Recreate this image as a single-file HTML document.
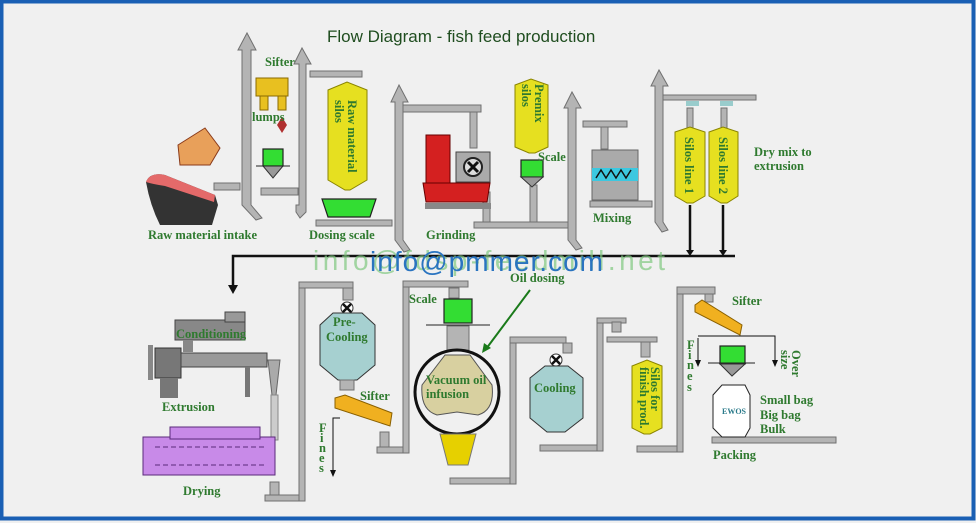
<!DOCTYPE html>
<html><head><meta charset="utf-8"><style>
html,body{margin:0;padding:0;background:#f0f0f0;}
svg{display:block}
.l{font-family:"Liberation Serif",serif;font-weight:bold;font-size:12.5px;fill:#2f7a2f}
.g{fill:#b4b4b4;stroke:#707070;stroke-width:1}
.y{fill:#e6e020;stroke:#8a8400;stroke-width:1}
.gr{fill:#33dd33;stroke:#222;stroke-width:1.2}
</style></head><body>
<svg width="976" height="523" viewBox="0 0 976 523" xmlns="http://www.w3.org/2000/svg">
<rect x="0" y="0" width="976" height="523" fill="#f0f0f0"/>
<rect x="1.5" y="1.5" width="972" height="517" fill="none" stroke="#1a5fb4" stroke-width="4"/>
<text x="327" y="42" font-family="Liberation Sans,sans-serif" font-size="17" fill="#1f4d1f">Flow Diagram - fish feed production</text>

<g class="g">
<polygon points="238,50 247,33 256,50 251,50 251,205 262,218 256,220 242,205 242,50"/>
<polygon points="294,64 302,48 311,64 306,64 306,212 300,218 296,212 296,205 299,205 299,64"/>
<polygon points="391,102 399,85 408,102 403,102 403,240 410,250 404,252 395,240 395,102"/>
<polygon points="564,108 572,92 581,108 576,108 576,240 582,248 576,250 568,240 568,108"/>
<polygon points="651,86 659,70 668,86 663,86 663,222 668,230 662,232 655,222 655,86"/>
</g>
<g class="g">
<rect x="214" y="183" width="26" height="7"/>
<rect x="261" y="188" width="37" height="7"/>
<rect x="310" y="71" width="52" height="6"/>
<rect x="316" y="220" width="76" height="6"/>
<rect x="403" y="105" width="78" height="7"/><rect x="470" y="112" width="7" height="36"/>
<rect x="474" y="222" width="94" height="6"/><rect x="483" y="192" width="7" height="30"/>
<rect x="583" y="121" width="44" height="6"/><rect x="601" y="127" width="7" height="22"/>
<rect x="590" y="201" width="62" height="6"/>
<rect x="663" y="95" width="93" height="5"/>
<rect x="530" y="185" width="7" height="37"/>
<rect x="265" y="495" width="37" height="6"/><rect x="299" y="283" width="6" height="218"/><rect x="299" y="282" width="54" height="6"/>
<rect x="377" y="447" width="29" height="6"/><rect x="403" y="282" width="6" height="171"/><rect x="403" y="281" width="65" height="6"/>
<rect x="450" y="478" width="66" height="6"/><rect x="510" y="338" width="6" height="146"/><rect x="510" y="337" width="56" height="6"/>
<rect x="540" y="445" width="62" height="6"/><rect x="597" y="318" width="6" height="133"/><rect x="597" y="318" width="29" height="5"/>
<rect x="607" y="337" width="50" height="5"/>
<rect x="637" y="446" width="44" height="6"/><rect x="677" y="288" width="6" height="164"/><rect x="677" y="287" width="38" height="7"/>
<rect x="712" y="437" width="124" height="6"/>
<rect x="270" y="482" width="9" height="13"/><rect x="380" y="432" width="9" height="15"/><rect x="343" y="288" width="10" height="12"/>
<rect x="449" y="288" width="10" height="10"/><rect x="563" y="343" width="9" height="10"/><rect x="612" y="322" width="9" height="10"/>
<rect x="641" y="342" width="9" height="15"/><rect x="705" y="294" width="8" height="8"/>
</g>

<g stroke="#111" stroke-width="2.5" fill="none">
<path d="M735,256 H233 V287"/>
<path d="M690,205 V252 M723,205 V252"/>
</g>
<polygon points="228,285 238,285 233,294" fill="#111"/>
<polygon points="686,250 694,250 690,256" fill="#111"/><polygon points="719,250 727,250 723,256" fill="#111"/>

<text x="313" y="270" font-family="Liberation Sans,sans-serif" font-size="28" fill="#7fc77f" fill-opacity="0.7" textLength="352">info@fdsp-feedmill.net</text>
<text x="370" y="271" font-family="Liberation Sans,sans-serif" font-size="28" fill="#2a74c0" textLength="233">info@pmmer.com</text>

<path d="M146,182 Q150,172 165,175 L215,195 L218,205 L212,225 L160,225 Q150,205 146,182Z" fill="#333"/>
<path d="M146,182 Q150,172 165,175 L215,195 L214,202 L165,186 Q152,184 146,182Z" fill="#e46a6a"/>
<path d="M178,145 L205,128 L220,148 L210,165 L180,165 Z" fill="#e8a05a" stroke="#8a3a1a"/>
<rect x="256" y="78" width="32" height="18" fill="#e8c020" stroke="#8a6a00"/>
<rect x="260" y="96" width="8" height="14" fill="#e8c020" stroke="#8a6a00"/><rect x="278" y="96" width="8" height="14" fill="#e8c020" stroke="#8a6a00"/>
<polygon points="282,117 287,125 282,133 277,125" fill="#b03030"/>
<rect x="263" y="149" width="20" height="17" class="gr"/>
<polygon points="263,166 283,166 273,178" fill="#999" stroke="#333"/>
<line x1="256" y1="166" x2="290" y2="166" stroke="#222"/>
<path d="M328,90 L347,82 L367,90 V180 L350,190 L345,190 L328,180Z" class="y"/>
<polygon points="322,199 376,199 370,217 328,217" class="gr"/>
<rect x="426" y="135" width="24" height="52" fill="#d42020" stroke="#600"/>
<rect x="456" y="152" width="34" height="30" fill="#aaa" stroke="#444"/>
<circle cx="473" cy="167" r="9" fill="#ddd" stroke="#222" stroke-width="2"/>
<path d="M468,162 L478,172 M478,162 L468,172" stroke="#111" stroke-width="3"/>
<path d="M423,183 H490 L487,202 H426Z" fill="#d42020" stroke="#600"/>
<rect x="425" y="203" width="66" height="6" fill="#888"/>
<path d="M515,85 L531,79 L548,85 V147 L535,153 L529,153 L515,147Z" class="y"/>
<rect x="521" y="160" width="22" height="17" class="gr"/>
<polygon points="521,177 543,177 532,187" fill="#999" stroke="#333"/>
<rect x="592" y="150" width="46" height="50" fill="#aaa" stroke="#666"/>
<rect x="592" y="168" width="46" height="13" fill="#3cc8e0"/>
<path d="M596,178 l5,-8 l5,8 l5,-8 l5,8 l5,-8 l5,8 l5,-8" stroke="#111" fill="none" stroke-width="1.5"/>
<rect x="686" y="101" width="13" height="5" fill="#9cc"/><rect x="720" y="101" width="13" height="5" fill="#9cc"/>
<rect x="687" y="108" width="6" height="20" class="g"/><rect x="721" y="108" width="6" height="20" class="g"/>
<path d="M675,132 L690,127 L705,132 V196 L693,203 L687,203 L675,196Z" class="y"/>
<path d="M709,132 L723,127 L738,132 V196 L727,203 L721,203 L709,196Z" class="y"/>

<text class="l" x="265" y="66">Sifter</text>
<text class="l" x="252" y="121" font-size="8">lumps</text>
<text class="l" x="538" y="161">Scale</text>
<text class="l" x="148" y="239">Raw material  intake</text>
<text class="l" x="309" y="239">Dosing scale</text>
<text class="l" x="426" y="239">Grinding</text>
<text class="l" x="593" y="222">Mixing</text>
<text class="l" x="754" y="156">Dry mix to</text>
<text class="l" x="754" y="170">extrusion</text>
<text class="l" transform="translate(348,100) rotate(90)">Raw material</text>
<text class="l" transform="translate(335,100) rotate(90)">silos</text>
<text class="l" transform="translate(535,84) rotate(90)">Premix</text>
<text class="l" transform="translate(522,84) rotate(90)">silos</text>
<text class="l" font-size="11" transform="translate(685,137) rotate(90)">Silos line 1</text>
<text class="l" font-size="11" transform="translate(719,137) rotate(90)">Silos line 2</text>

<rect x="175" y="320" width="70" height="20" fill="#888" stroke="#444"/>
<rect x="225" y="312" width="20" height="10" fill="#999" stroke="#444"/>
<rect x="183" y="340" width="10" height="12" fill="#888"/>
<rect x="155" y="348" width="26" height="30" fill="#777" stroke="#333"/>
<rect x="148" y="345" width="5" height="35" fill="#888"/>
<rect x="160" y="378" width="18" height="20" fill="#777"/>
<rect x="181" y="353" width="86" height="14" fill="#999" stroke="#444"/>
<rect x="245" y="367" width="5" height="30" fill="#777"/>
<polygon points="268,360 280,360 276,395 272,395" fill="#aaa" stroke="#666"/>
<rect x="271" y="395" width="7" height="45" fill="#ccc" stroke="#888"/>
<rect x="143" y="437" width="132" height="38" fill="#c88ae8" stroke="#5a2a7a"/>
<rect x="170" y="427" width="90" height="12" fill="#c88ae8" stroke="#5a2a7a"/>
<path d="M155,447 H265 M155,465 H265" stroke="#5a2a7a" stroke-dasharray="5,3"/>
<text class="l" x="176" y="338">Conditioning</text>
<text class="l" x="162" y="411">Extrusion</text>
<text class="l" x="183" y="495">Drying</text>

<circle cx="347" cy="308" r="6" fill="#fff" stroke="#333"/><path d="M343,304 l8,8 m0,-8 l-8,8" stroke="#111" stroke-width="2.5"/>
<path d="M333,313 H362 L375,325 V365 L357,380 H338 L320,365 V325Z" fill="#a6d0d0" stroke="#333"/>
<rect x="340" y="380" width="14" height="10" class="g"/>
<polygon points="335,398 345,395 392,413 390,426 335,408" fill="#f0b020" stroke="#8a6000"/>
<path d="M340,418 H333 V472" stroke="#111" fill="none"/><polygon points="330,470 336,470 333,477" fill="#111"/>
<text class="l" x="333" y="326">Pre-</text><text class="l" x="326" y="341">Cooling</text>
<text class="l" x="360" y="400">Sifter</text>
<text class="l" x="319" y="432" font-size="9">F</text><text class="l" x="320" y="442" font-size="9">i</text><text class="l" x="319" y="452" font-size="9">n</text><text class="l" x="319" y="462" font-size="9">e</text><text class="l" x="319" y="472" font-size="9">s</text>

<rect x="444" y="299" width="28" height="24" class="gr"/>
<line x1="426" y1="325" x2="490" y2="325" stroke="#222"/>
<rect x="447" y="326" width="22" height="24" class="g"/>
<circle cx="457" cy="392" r="42" fill="#f0f0f0" stroke="#111" stroke-width="3"/>
<path d="M445,355 H470 L492,385 Q495,410 478,415 L457,412 L437,415 Q420,410 422,385Z" fill="#d8d0a0" stroke="#555"/>
<polygon points="440,434 476,434 468,465 448,465" fill="#e6d000" stroke="#777"/>
<text class="l" x="409" y="303">Scale</text>
<text class="l" x="510" y="282">Oil dosing</text>
<text class="l" x="426" y="384">Vacuum oil</text><text class="l" x="426" y="398">infusion</text>
<line x1="530" y1="290" x2="486" y2="349" stroke="#1a7a1a" stroke-width="2"/>
<polygon points="482,353 484,343 491,348" fill="#1a7a1a"/>

<circle cx="556" cy="360" r="6" fill="#fff" stroke="#333"/><path d="M552,356 l8,8 m0,-8 l-8,8" stroke="#111" stroke-width="2.5"/>
<path d="M545,366 H568 L583,378 V418 L565,432 H547 L530,418 V378Z" fill="#a6d0d0" stroke="#333"/>
<text class="l" x="534" y="392">Cooling</text>

<path d="M632,366 L647,360 L662,366 V428 L650,434 L644,434 L632,428Z" class="y"/>
<text class="l" font-size="10" transform="translate(651,367) rotate(90)">Silos for</text>
<text class="l" font-size="10" transform="translate(640,367) rotate(90)">finish prod.</text>

<polygon points="695,305 702,300 742,325 740,335 695,312" fill="#f0b020" stroke="#8a6000"/>
<path d="M698,338 V362 M698,336 H775 V362" stroke="#111" fill="none"/>
<polygon points="695,360 701,360 698,367" fill="#111"/><polygon points="772,360 778,360 775,367" fill="#111"/>
<rect x="720" y="346" width="25" height="18" class="gr"/>
<line x1="708" y1="363" x2="755" y2="363" stroke="#222"/>
<polygon points="720,364 745,364 732,376" fill="#999" stroke="#333"/>
<polygon points="722,385 745,385 750,395 750,428 745,437 722,437 713,428 713,395" fill="#fff" stroke="#222"/>
<text x="722" y="414" font-family="Liberation Serif,serif" font-size="8" fill="#2a7a8a" font-weight="bold">EWOS</text>
<text class="l" x="732" y="305">Sifter</text>
<text class="l" x="687" y="349" font-size="9">F</text><text class="l" x="688" y="359" font-size="9">i</text><text class="l" x="687" y="369" font-size="9">n</text><text class="l" x="687" y="380" font-size="9">e</text><text class="l" x="687" y="391" font-size="9">s</text>
<text class="l" font-size="10" transform="translate(792,350) rotate(90)">Over</text>
<text class="l" font-size="10" transform="translate(781,350) rotate(90)">size</text>
<text class="l" x="760" y="404">Small bag</text>
<text class="l" x="760" y="419">Big bag</text>
<text class="l" x="760" y="433">Bulk</text>
<text class="l" x="713" y="459">Packing</text>
</svg>
</body></html>
